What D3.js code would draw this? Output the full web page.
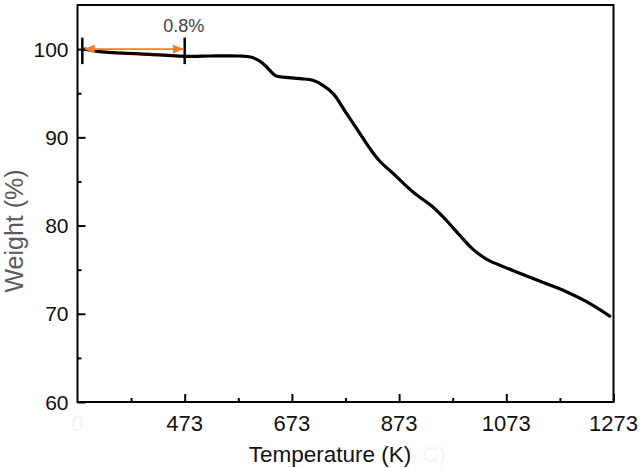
<!DOCTYPE html>
<html>
<head>
<meta charset="utf-8">
<script src="https://cdn.jsdelivr.net/npm/d3@7/dist/d3.min.js"></script>
<style>
  html, body { margin: 0; padding: 0; background: #fff; }
  svg { display: block; font-family: Arial, "Liberation Sans", sans-serif; }
</style>
</head>
<body>
<svg id="chart" width="640" height="468"></svg>
<script>
// ---- data ----
const temperatureK = [287, 315, 408, 483, 520, 576, 596, 613, 626, 638, 644, 688, 712, 731, 750, 775, 800, 818, 837, 862, 899, 936, 961, 986, 1011, 1036, 1061, 1098, 1148, 1185, 1222, 1266];
const weightPct   = [100.0, 99.72, 99.41, 99.18, 99.22, 99.22, 99.1, 98.65, 97.97, 97.2, 96.95, 96.66, 96.47, 95.9, 94.96, 92.7, 90.43, 88.77, 87.29, 85.9, 83.8, 82.1, 80.6, 78.9, 77.3, 76.2, 75.5, 74.6, 73.4, 72.5, 71.4, 69.74];
const xTickLabels = [473, 673, 873, 1073, 1273];
const xMinorTicks = [373, 573, 773, 973, 1173];
const yTickLabels = [60, 70, 80, 90, 100];
const yMinorTicks = [65, 75, 85, 95];
// annotation (data units)
const arrowFromK = 287, arrowToK = 473, arrowAt = 100.0;
const barsK = [282, 473];
const barsLow = 98.3, barsHigh = 101.3;
const annoLabel = "0.8%";

// ---- layout ----
const svg = d3.select("#chart");
const L = 77.5, R = 613.5, T = 5, B = 402;
const x = d3.scaleLinear().domain([273, 1273]).range([L, R]);
const y = d3.scaleLinear().domain([60, 105]).range([B, T]);

// frame
svg.append("rect").attr("x", L).attr("y", T).attr("width", R - L).attr("height", B - T)
  .attr("fill", "none").attr("stroke", "#000").attr("stroke-width", 2);

// x axis (inward ticks)
const gx = svg.append("g").attr("transform", `translate(0,${B})`);
gx.call(d3.axisTop(x).tickValues(xTickLabels).tickSize(8).tickFormat(""))
  .call(g => g.select(".domain").remove())
  .call(g => g.selectAll("line").attr("stroke", "#000").attr("stroke-width", 2));
gx.append("g").call(d3.axisTop(x).tickValues(xMinorTicks).tickSize(4).tickFormat(""))
  .call(g => g.select(".domain").remove())
  .call(g => g.selectAll("line").attr("stroke", "#000").attr("stroke-width", 2));
svg.append("g").selectAll("text").data(xTickLabels).join("text")
  .attr("x", d => x(d)).attr("y", B + 29)
  .attr("text-anchor", "middle").attr("font-size", 22).attr("fill", "#111")
  .text(d => d);
// faint ghost "0" at origin
svg.append("text").attr("x", x(273)).attr("y", B + 29).attr("text-anchor", "middle")
  .attr("font-size", 22).attr("fill", "#f3f3f3").text("0");

// y axis (inward ticks)
const gy = svg.append("g").attr("transform", `translate(${L},0)`);
gy.call(d3.axisRight(y).tickValues(yTickLabels).tickSize(8).tickFormat(""))
  .call(g => g.select(".domain").remove())
  .call(g => g.selectAll("line").attr("stroke", "#000").attr("stroke-width", 2));
gy.append("g").call(d3.axisRight(y).tickValues(yMinorTicks).tickSize(4).tickFormat(""))
  .call(g => g.select(".domain").remove())
  .call(g => g.selectAll("line").attr("stroke", "#000").attr("stroke-width", 2));
svg.append("g").selectAll("text").data(yTickLabels).join("text")
  .attr("x", L - 9).attr("y", d => y(d) + 7.5)
  .attr("text-anchor", "end").attr("font-size", 21).attr("fill", "#111")
  .text(d => d);

// axis titles
svg.append("text").attr("x", 330).attr("y", 462).attr("text-anchor", "middle")
  .attr("font-size", 22.5).attr("fill", "#111").text("Temperature (K)");
svg.append("text").attr("x", 434).attr("y", 462).attr("text-anchor", "middle")
  .attr("font-size", 22.5).attr("fill", "#f4f4f4").text("C)");
svg.append("text").attr("transform", `translate(23,231) rotate(-90)`)
  .attr("text-anchor", "middle").attr("font-size", 25).attr("fill", "#5a5a5a").text("Weight (%)");

// curve
const line = d3.line().x(d => x(d[0])).y(d => y(d[1])).curve(d3.curveCatmullRom.alpha(0.5));
svg.append("path").datum(d3.zip(temperatureK, weightPct))
  .attr("d", line).attr("fill", "none").attr("stroke", "#000")
  .attr("stroke-width", 3.2).attr("stroke-linejoin", "round").attr("stroke-linecap", "round");

// annotation: bars
svg.append("g").selectAll("line").data(barsK).join("line")
  .attr("x1", d => x(d)).attr("x2", d => x(d))
  .attr("y1", y(barsHigh)).attr("y2", y(barsLow))
  .attr("stroke", "#000").attr("stroke-width", 2.5);

// annotation: orange double arrow
const defs = svg.append("defs");
defs.append("marker").attr("id", "ah").attr("viewBox", "0 0 10 10").attr("refX", 9).attr("refY", 5)
  .attr("markerWidth", 6).attr("markerHeight", 6).attr("orient", "auto-start-reverse")
  .append("path").attr("d", "M0,1 L10,5 L0,9 Z").attr("fill", "#ed7d31");
svg.append("line").attr("x1", x(arrowFromK)).attr("x2", x(arrowToK) - 2)
  .attr("y1", y(arrowAt)).attr("y2", y(arrowAt))
  .attr("stroke", "#ed7d31").attr("stroke-width", 1.8)
  .attr("marker-start", "url(#ah)").attr("marker-end", "url(#ah)");
svg.append("text").attr("x", x(arrowToK) - 1).attr("y", 31.5).attr("text-anchor", "middle")
  .attr("font-size", 18).attr("fill", "#444").text(annoLabel);
</script>
</body>
</html>
